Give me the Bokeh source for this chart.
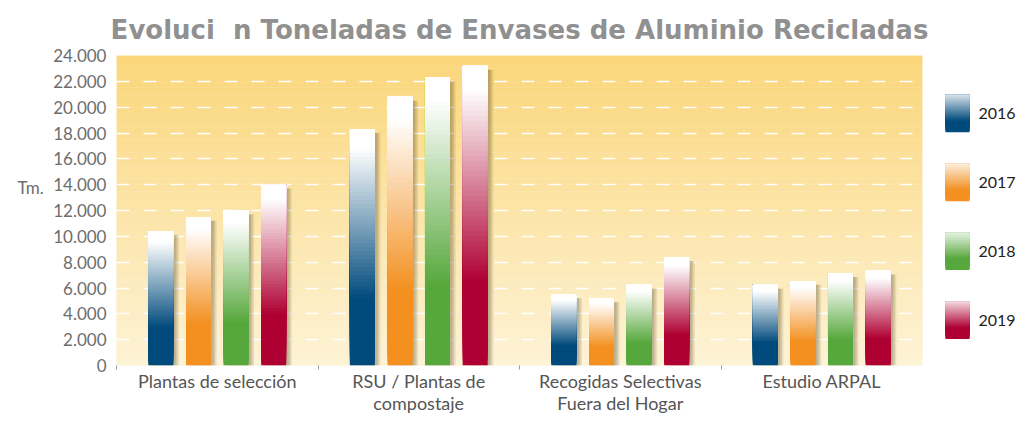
import numpy as np
from bokeh.plotting import figure
from bokeh.models import Range1d, FixedTicker, BoxAnnotation
from bokeh.layouts import row
from bokeh.embed import file_html
from bokeh.resources import INLINE
from bokeh.core.properties import value

# ---------------- data ----------------
title_text = "Evoluci\u00a0\u00a0n Toneladas de Envases de Aluminio Recicladas"
y_axis_title = "Tm."
categories = ["Plantas de selección", "RSU / Plantas de\ncompostaje",
              "Recogidas Selectivas\nFuera del Hogar", "Estudio ARPAL"]
years = ["2016", "2017", "2018", "2019"]
v2016 = [10400, 18300, 5500, 6250]
v2017 = [11500, 20800, 5200, 6550]
v2018 = [12000, 22300, 6250, 7150]
v2019 = [14000, 23200, 8400, 7350]
series = [v2016, v2017, v2018, v2019]
y_ticks = list(range(0, 24001, 2000))
y_tick_labels = [f"{v:,}".replace(",", ".") for v in y_ticks]
colors = [(0, 74, 124), (243, 144, 32), (87, 168, 60), (174, 0, 50)]

FONT = "Lato"
H = 416
TOP = 55          # frame top (px)
BOTTOM = 46       # space under the frame (px)
FH = H - TOP - BOTTOM


def mix(c, f):
    r = int(round(c[0] * (1 - f) + 255 * f))
    g = int(round(c[1] * (1 - f) + 255 * f))
    b = int(round(c[2] * (1 - f) + 255 * f))
    return "#%02x%02x%02x" % (r, g, b)


p = figure(width=880, height=H, x_range=Range1d(0, 4), y_range=Range1d(0, 24000),
           output_backend="svg", toolbar_location=None,
           min_border_left=66, min_border_right=8, min_border_top=TOP, min_border_bottom=BOTTOM,
           title=title_text)
p.title.text_font = "DejaVu Sans"
p.title.text_font_style = "bold"
p.title.text_font_size = "26px"
p.title.text_color = "#909090"
p.title.align = "center"
p.title.standoff = 22
p.outline_line_color = None
p.background_fill_color = "#fdf3d8"

# background gradient of the plot area
nb = 48
for i in range(nb):
    t = (i + 0.5) / nb
    top_c = (251, 214, 122)
    bot_c = (253, 243, 214)
    c = tuple(bot_c[k] * (1 - t) + top_c[k] * t for k in range(3))
    col = "#%02x%02x%02x" % tuple(int(round(x)) for x in c)
    p.add_layout(BoxAnnotation(bottom=24000 * i / nb, top=24000 * (i + 1) / nb,
                               fill_color=col, fill_alpha=1.0, line_color=col, line_width=0.5,
                               level="image"))

# axes
p.xaxis.ticker = FixedTicker(ticks=[i + 0.5 for i in range(len(categories))],
                             minor_ticks=list(range(len(categories))))
p.xaxis.major_label_overrides = {i + 0.5: c for i, c in enumerate(categories)}
p.xaxis.axis_line_color = None
p.xaxis.major_tick_line_color = None
p.xaxis.major_tick_out = 0
p.xaxis.major_tick_in = 0
p.xaxis.minor_tick_line_color = "#9a9a9a"
p.xaxis.minor_tick_out = 4
p.xaxis.minor_tick_in = 0
p.xaxis.major_label_text_font = FONT
p.xaxis.major_label_text_font_size = "18px"
p.xaxis.major_label_text_line_height = 1.0
p.xaxis.major_label_text_color = "#555555"
p.xaxis.major_label_standoff = 0

p.yaxis.ticker = FixedTicker(ticks=y_ticks)
p.yaxis.major_label_overrides = dict(zip(y_ticks, y_tick_labels))
p.yaxis.axis_line_color = None
p.yaxis.major_tick_line_color = None
p.yaxis.major_tick_out = 0
p.yaxis.minor_tick_line_color = None
p.yaxis.major_label_text_font = FONT
p.yaxis.major_label_text_font_size = "17px"
p.yaxis.major_label_text_color = "#6d6d6d"
p.yaxis.major_label_standoff = 10

p.xgrid.visible = False
p.ygrid.ticker = FixedTicker(ticks=y_ticks[1:-1])
p.ygrid.grid_line_color = "white"
p.ygrid.grid_line_dash = "13 14"
p.ygrid.grid_line_width = 1.5

# bars (gradient built from overlapping slices, drawn bottom-up)
offsets = [-0.28, -0.093, 0.093, 0.28]
bw = 0.124
N = 60
for s, (vals, base, off) in enumerate(zip(series, colors, offsets)):
    xc = np.arange(len(categories)) + 0.5 + off
    vals = np.array(vals, dtype=float)
    # soft shadow
    for dx, a in [(0.012, 0.16), (0.02, 0.15), (0.028, 0.12)]:
        p.quad(left=xc - bw / 2 + dx, right=xc + bw / 2 + dx, bottom=0, top=vals - 300,
               fill_color="#5a4a28", fill_alpha=a, line_color=None)
    L, R, B, T, C = [], [], [], [], []
    for j in range(len(categories)):
        edges = np.linspace(0, vals[j], N + 1)
        for k in range(N):
            t = (k + 0.5) / N
            f = min(max((t - 0.28) / 0.64, 0.0), 1.0)
            L.append(xc[j] - bw / 2)
            R.append(xc[j] + bw / 2)
            B.append(edges[k])
            T.append(vals[j])
            C.append(mix(base, f))
    p.quad(left=L, right=R, bottom=B, top=T, fill_color=C, line_color=None)

# left panel with the axis title
lf = figure(width=50, height=H, x_range=Range1d(0, 50), y_range=Range1d(FH, 0),
            output_backend="svg", toolbar_location=None,
            min_border_left=0, min_border_right=0, min_border_top=TOP, min_border_bottom=BOTTOM,
            x_axis_location=None, y_axis_location=None)
lf.grid.visible = False
lf.outline_line_color = None
lf.text(x=[17], y=[189 - TOP], text=[y_axis_title], text_font=value(FONT), text_font_size="17px",
        text_color="#6d6d6d", text_baseline="middle", text_align="left")

# legend panel
lg = figure(width=89, height=H, x_range=Range1d(0, 89), y_range=Range1d(FH, 0),
            output_backend="svg", toolbar_location=None,
            min_border_left=0, min_border_right=0, min_border_top=TOP, min_border_bottom=BOTTOM,
            x_axis_location=None, y_axis_location=None)
lg.grid.visible = False
lg.outline_line_color = None
M = 30
for i, (yr, base) in enumerate(zip(years, colors)):
    top = 95 - TOP + 70 * i
    bot = 133 - TOP + 70 * i
    edges = np.linspace(bot, top, M + 1)
    cols = []
    for k in range(M):
        t = (k + 0.5) / M
        f = min(max((t - 0.3) / 0.7, 0.0), 1.0) * 0.85
        cols.append(mix(base, f))
    lg.quad(left=15, right=39, bottom=edges[:-1], top=[top] * M, fill_color=cols, line_color=None)
    lg.text(x=[48], y=[(top + bot) / 2], text=[yr], text_font=value(FONT), text_font_size="16px",
            text_color="#222222", text_baseline="middle", text_align="left")

layout = row(lf, p, lg)
open("out.html", "w").write(file_html(layout, INLINE))
